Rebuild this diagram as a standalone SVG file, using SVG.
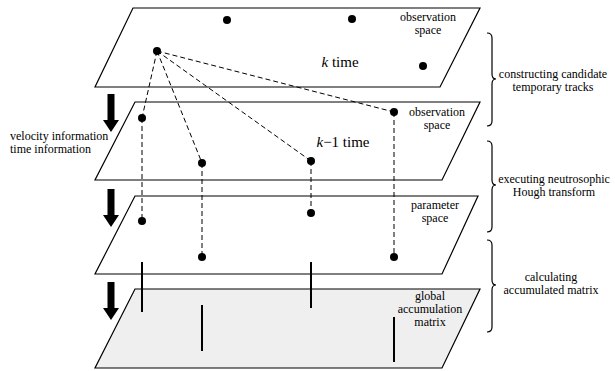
<svg xmlns="http://www.w3.org/2000/svg" width="615" height="371" viewBox="0 0 615 371">
<style>
.plane{fill:#fff;stroke:#000;stroke-width:1.2}
.gray{fill:#efefef}
.dot{fill:#000}
.dash{stroke:#000;stroke-width:1;stroke-dasharray:5,3;fill:none}
.bar{stroke:#000;stroke-width:2;fill:none}
.brace{stroke:#000;stroke-width:1.2;fill:none}
text{font-family:"Liberation Serif","DejaVu Serif",serif;fill:#000}
.s{font-size:12px}
.m{font-size:15px}
.c{text-anchor:middle}
</style>
<defs>
<path id="arrow" d="M-3.5,0 H3.5 V26 H8 L0,38 L-8,26 H-3.5 Z" fill="#000"/>
</defs>
<g id="plane-k">
<polygon class="plane" points="133,8 480,8 440,87 95,87"/>
<text class="s c" x="428" y="21">observation</text>
<text class="s c" x="428" y="34">space</text>
<text class="m c" x="340" y="67"><tspan font-style="italic">k</tspan> time</text>
<circle class="dot" cx="227" cy="20" r="4"/>
<circle class="dot" cx="352" cy="19" r="4"/>
<circle class="dot" cx="157" cy="51" r="4"/>
<circle class="dot" cx="423" cy="66" r="4"/>
</g>
<g id="plane-k1">
<polygon class="plane" points="135,102 480,102 442,180 95,180"/>
<text class="s c" x="437" y="116">observation</text>
<text class="s c" x="437" y="129">space</text>
<text class="m c" x="343" y="147"><tspan font-style="italic">k</tspan>−1 time</text>
</g>
<g id="plane-param">
<polygon class="plane" points="135,196 478,196 442,274 95,274"/>
<text class="s c" x="435" y="209">parameter</text>
<text class="s c" x="435" y="222">space</text>
</g>
<g id="plane-global">
<polygon class="plane gray" points="135,289 480,289 442,368 95,368"/>
<text class="s c" x="430" y="300">global</text>
<text class="s c" x="430" y="313">accumulation</text>
<text class="s c" x="430" y="326">matrix</text>
</g>
<g id="connectors">
<path class="dash" d="M157,51 L142,118 M157,51 L202,163 M157,51 L311,161 M157,51 L394,112"/>
<path class="dash" d="M142,118 V221 M202,163 V257 M311,161 V213 M394,112 V257"/>
<path class="bar" d="M142,262 V312 M311,262 V308 M202,305 V351 M394,317 V362"/>
<circle class="dot" cx="142" cy="118" r="4"/>
<circle class="dot" cx="202" cy="163" r="4"/>
<circle class="dot" cx="311" cy="161" r="4"/>
<circle class="dot" cx="394" cy="112" r="4"/>
<circle class="dot" cx="142" cy="221" r="4"/>
<circle class="dot" cx="311" cy="213" r="4"/>
<circle class="dot" cx="202" cy="257" r="4"/>
<circle class="dot" cx="394" cy="257" r="4"/>
</g>
<g id="arrows">
<use href="#arrow" x="111" y="94"/>
<use href="#arrow" x="111" y="189"/>
<use href="#arrow" x="111" y="282"/>
</g>
<g id="side-label">
<text class="s" x="10" y="140">velocity information</text>
<text class="s" x="10" y="153">time information</text>
</g>
<g id="brace-1">
<path class="brace" d="M487,33 Q492,33 492,38 L492,74 Q492,79 496,79 Q492,79 492,84 L492,121 Q492,126 487,126"/>
<text class="s c" x="553" y="78">constructing candidate</text>
<text class="s c" x="553" y="91">temporary tracks</text>
</g>
<g id="brace-2">
<path class="brace" d="M487,141 Q492,141 492,146 L492,180 Q492,185 496,185 Q492,185 492,190 L492,227 Q492,232 487,232"/>
<text class="s c" x="554" y="183">executing neutrosophic</text>
<text class="s c" x="554" y="196">Hough transform</text>
</g>
<g id="brace-3">
<path class="brace" d="M487,240 Q492,240 492,245 L492,280 Q492,285 496,285 Q492,285 492,290 L492,327 Q492,332 487,332"/>
<text class="s c" x="551" y="281">calculating</text>
<text class="s c" x="551" y="294">accumulated matrix</text>
</g>
</svg>
